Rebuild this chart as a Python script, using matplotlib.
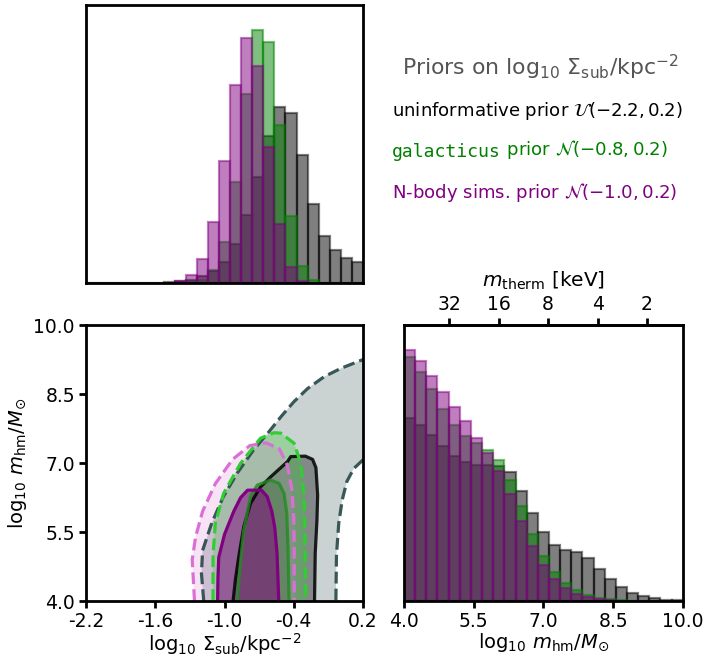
import numpy as np
import matplotlib
matplotlib.use("Agg")
import matplotlib.pyplot as plt

plt.rcParams['axes.unicode_minus'] = False

# --- data ---
# top-left histogram: log10 Sigma_sub, 25 bins over [-2.2, 0.2]
sig_edges = np.linspace(-2.2, 0.2, 26)
sig_unif = [0, 0, 0, 0, 0, 0, 1, 2, 5, 10, 20, 35, 63, 117, 203, 317, 438, 525, 509, 381, 235, 140, 98, 76, 63]
sig_galac = [0, 0, 0, 0, 0, 0, 0, 0, 0, 7, 9, 39, 122, 301, 565, 756, 720, 473, 199, 51, 8, 0, 0, 0, 0]
sig_nbody = [0, 0, 0, 0, 0, 0, 0, 0, 7, 24, 73, 181, 363, 590, 731, 648, 407, 175, 48, 5, 0, 0, 0, 0, 0]

# bottom-right histogram: log10 m_hm, 25 bins over [4, 10]
mhm_edges = np.linspace(4.0, 10.0, 26)
mhm_unif = [550, 530, 500, 465, 437, 419, 409, 410, 407, 387, 332, 265, 207, 169, 154, 147, 130, 97, 67, 41, 25, 15, 8, 4, 2]
mhm_galac = [734, 688, 637, 576, 529, 495, 474, 455, 425, 365, 284, 201, 134, 87, 54, 32, 18, 9, 5, 2, 0, 0, 0, 0, 0]
mhm_nbody = [754, 722, 675, 628, 582, 540, 491, 444, 392, 322, 239, 165, 107, 65, 39, 20, 12, 6, 3, 0, 0, 0, 0, 0, 0]

# contour outlines (log10 Sigma_sub, log10 m_hm)
unif95_outer_x = [-1.18, -1.20, -1.19, -1.11, -1.01, -0.89, -0.75, -0.615, -0.51, -0.40, -0.28, -0.135, 0.01, 0.2]
unif95_outer_y = [4.0, 4.6, 5.1, 5.7, 6.27, 6.78, 7.28, 7.68, 8.01, 8.33, 8.62, 8.88, 9.06, 9.25]
unif95_inner_x = [0.2, 0.12, 0.06, 0.02, -0.01, -0.03, -0.035]
unif95_inner_y = [7.07, 6.88, 6.6, 6.2, 5.7, 5.0, 4.0]
unif68_x = [-0.926, -0.906, -0.877, -0.833, -0.775, -0.688, -0.60, -0.455, -0.426, -0.30, -0.237, -0.208, -0.193, -0.199, -0.214, -0.22]
unif68_y = [4.0, 4.46, 4.96, 5.62, 6.12, 6.48, 6.70, 7.03, 7.14, 7.15, 7.08, 6.90, 6.30, 5.76, 5.04, 4.0]
galac95_x = [-1.10, -1.10, -1.08, -1.008, -0.862, -0.688, -0.57, -0.513, -0.397, -0.339, -0.310, -0.304, -0.295]
galac95_y = [4.0, 4.96, 5.69, 6.34, 6.99, 7.54, 7.66, 7.65, 7.43, 6.99, 6.27, 5.54, 4.0]
galac68_x = [-0.891, -0.862, -0.833, -0.775, -0.717, -0.60, -0.528, -0.484, -0.461, -0.450, -0.441]
galac68_y = [4.0, 4.82, 5.54, 6.27, 6.52, 6.63, 6.56, 6.34, 5.91, 5.18, 4.0]
nbody95_x = [-1.26, -1.28, -1.25, -1.19, -1.08, -0.93, -0.78, -0.64, -0.525, -0.455, -0.415, -0.40, -0.396, -0.396]
nbody95_y = [4.0, 4.9, 5.4, 5.95, 6.55, 7.08, 7.38, 7.44, 7.31, 6.95, 6.4, 5.8, 5.2, 4.0]
nbody68_x = [-1.06, -1.057, -1.05, -1.0, -0.92, -0.86, -0.80, -0.68, -0.63, -0.59, -0.565, -0.545, -0.53]
nbody68_y = [4.0, 4.5, 4.95, 5.45, 5.95, 6.25, 6.41, 6.41, 6.27, 5.95, 5.6, 5.05, 4.0]

therm_ticks = [32, 16, 8, 4, 2]

# m_hm <-> m_therm conversion fitted to the top axis
a_conv, b_conv = 10.294, 3.533


def to_therm(x):
    return 10 ** ((a_conv - np.asarray(x, dtype=float)) / b_conv)


def from_therm(m):
    m = np.clip(np.asarray(m, dtype=float), 1e-6, None)
    return a_conv - b_conv * np.log10(m)


fig = plt.figure(figsize=(7.18, 6.56), dpi=100)
ax_top = fig.add_axes([0.1198, 0.5686, 0.3858, 0.4238])
ax_2d = fig.add_axes([0.1198, 0.0838, 0.3858, 0.4207])
ax_mhm = fig.add_axes([0.5627, 0.0838, 0.3882, 0.4207])

tick_fs = 13.5
label_fs = 14
text_fs = 13.1


def draw_hist(ax, edges, heights, color, skip_zero):
    w = np.diff(edges)
    h = np.asarray(heights, dtype=float)
    keep = np.ones_like(h, dtype=bool) if not skip_zero else h > 0
    ax.bar(edges[:-1][keep], h[keep], width=w[keep], align='edge',
           color=color, edgecolor=color, alpha=0.5, linewidth=1.6)


for ax, edges, series in [
    (ax_top, sig_edges, [sig_unif, sig_galac, sig_nbody]),
    (ax_mhm, mhm_edges, [mhm_unif, mhm_galac, mhm_nbody]),
]:
    draw_hist(ax, edges, series[0], 'black', False)
    draw_hist(ax, edges, series[1], 'green', True)
    draw_hist(ax, edges, series[2], 'purple', True)

ax_top.set_xlim(-2.2, 0.2)
ax_top.set_ylim(0, 830)
ax_top.set_xticks([])
ax_top.set_yticks([])

ax_mhm.set_xlim(4, 10)
ax_mhm.set_ylim(0, 829)
ax_mhm.set_yticks([])
ax_mhm.set_xticks([4.0, 5.5, 7.0, 8.5, 10.0])
ax_mhm.set_xticklabels(['4.0', '5.5', '7.0', '8.5', '10.0'])
ax_mhm.set_xlabel(r'$\log_{10}\,m_{\rm hm}/M_{\odot}$', fontsize=label_fs, labelpad=0)

sec = ax_mhm.secondary_xaxis('top', functions=(to_therm, from_therm))
sec.set_xticks(therm_ticks)
sec.set_xticklabels([str(t) for t in therm_ticks])
sec.minorticks_off()
sec.set_xlabel(r'$m_{\rm therm}$ [keV]', fontsize=14.5, labelpad=6)
sec.tick_params(axis='x', direction='out', length=5, width=2, labelsize=tick_fs, pad=3)
sec.spines['top'].set_linewidth(2)

# 2D contours
ax_2d.fill(unif95_outer_x + unif95_inner_x, unif95_outer_y + unif95_inner_y,
           color='darkslategray', alpha=0.25, lw=0)
ax_2d.fill(unif68_x, unif68_y, color='black', alpha=0.35, lw=0)
ax_2d.plot(unif95_outer_x, unif95_outer_y, color='darkslategray', lw=2.3, ls='--', alpha=0.95)
ax_2d.plot(unif95_inner_x, unif95_inner_y, color='darkslategray', lw=2.3, ls='--', alpha=0.95)
ax_2d.plot(unif68_x, unif68_y, color='black', lw=2.3, alpha=0.85)

ax_2d.fill(galac95_x, galac95_y, color='limegreen', alpha=0.3, lw=0)
ax_2d.fill(galac68_x, galac68_y, color='darkgreen', alpha=0.3, lw=0)
ax_2d.plot(galac95_x, galac95_y, color='limegreen', lw=2.3, ls='--')
ax_2d.plot(galac68_x, galac68_y, color='forestgreen', lw=2.3, alpha=0.8)

ax_2d.fill(nbody95_x, nbody95_y, color='orchid', alpha=0.2, lw=0)
ax_2d.fill(nbody68_x, nbody68_y, color='purple', alpha=0.5, lw=0)
ax_2d.plot(nbody95_x, nbody95_y, color='orchid', lw=2.3, ls='--')
ax_2d.plot(nbody68_x, nbody68_y, color='purple', lw=2.3)

ax_2d.set_xlim(-2.2, 0.2)
ax_2d.set_ylim(4.0, 10.0)
ax_2d.set_xticks([-2.2, -1.6, -1.0, -0.4, 0.2])
ax_2d.set_xticklabels(['-2.2', '-1.6', '-1.0', '-0.4', '0.2'])
ax_2d.set_yticks([4.0, 5.5, 7.0, 8.5, 10.0])
ax_2d.set_yticklabels(['4.0', '5.5', '7.0', '8.5', '10.0'])
ax_2d.set_xlabel(r'$\log_{10}\,\Sigma_{\rm sub}/{\rm kpc}^{-2}$', fontsize=label_fs, labelpad=0)
ax_2d.set_ylabel(r'$\log_{10}\,m_{\rm hm}/M_{\odot}$', fontsize=label_fs, labelpad=3)

for ax in (ax_top, ax_2d, ax_mhm):
    for sp in ax.spines.values():
        sp.set_linewidth(2)
    ax.tick_params(direction='out', length=5, width=2, labelsize=tick_fs, pad=3)

# legend-like text block
fig.text(540 / 718, 1 - 67 / 656, r'Priors on $\log_{10}\,\Sigma_{\rm sub}/{\rm kpc}^{-2}$',
         fontsize=15.8, color='#555555', ha='center', va='center')
fig.text(392 / 718, 1 - 111 / 656, r'uninformative prior $\mathcal{U}(-2.2, 0.2)$',
         fontsize=text_fs, color='black', ha='left', va='center')
t_gal = fig.text(392 / 718, 1 - 152 / 656, 'galacticus', family='DejaVu Sans Mono',
                 fontsize=text_fs, color='green', ha='left', va='center')
ax_top.annotate(r' prior $\mathcal{N}(-0.8, 0.2)$', xy=(1, 0), xycoords=t_gal,
                va='bottom', ha='left', fontsize=text_fs, color='green', annotation_clip=False)
fig.text(392 / 718, 1 - 193 / 656, r'N-body sims. prior $\mathcal{N}(-1.0, 0.2)$',
         fontsize=text_fs, color='purple', ha='left', va='center')

fig.savefig('out.png', dpi=100)
